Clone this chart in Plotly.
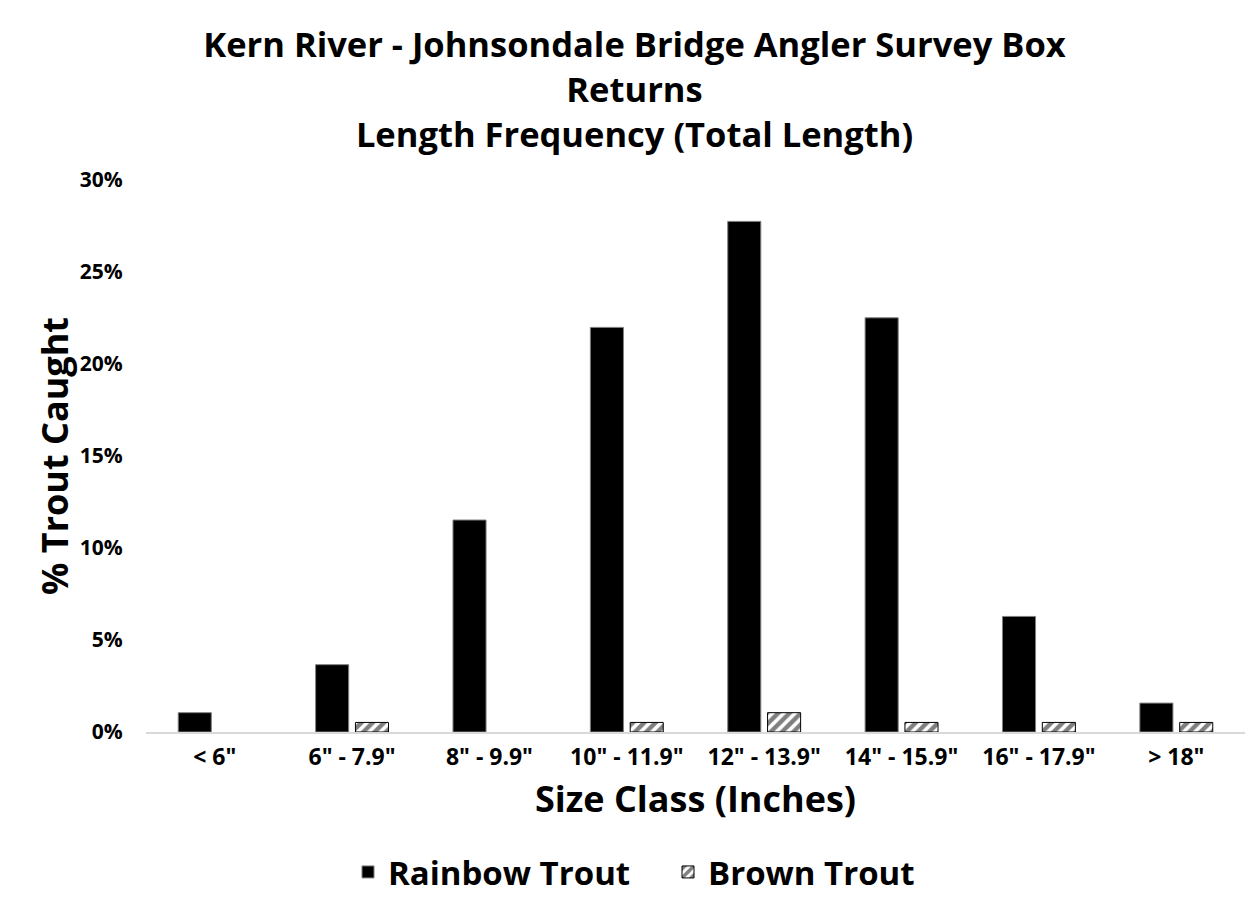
import plotly.graph_objects as go

categories = ['< 6"', '6" - 7.9"', '8" - 9.9"', '10" - 11.9"', '12" - 13.9"', '14" - 15.9"', '16" - 17.9"', '> 18"']
rainbow_pct = [1.05, 3.66, 11.52, 21.99, 27.75, 22.51, 6.28, 1.57]
brown_pct = [None, 0.52, None, 0.52, 1.05, 0.52, 0.52, 0.52]
y_ticks = [0, 5, 10, 15, 20, 25, 30]
y_tick_labels = [f"{v}%" for v in y_ticks]

FONT = "Open Sans"

fig = go.Figure()
fig.add_trace(go.Bar(
    x=categories, y=rainbow_pct, name="<b>Rainbow Trout</b>",
    marker=dict(color="black", line=dict(color="#7f7f7f", width=1)),
))
fig.add_trace(go.Bar(
    x=categories, y=brown_pct, name="<b>Brown Trout</b>",
    marker=dict(color="white", line=dict(color="black", width=1),
                pattern=dict(shape="/", fgcolor="black", bgcolor="white", size=8, solidity=0.55)),
))

fig.update_layout(
    width=1253, height=909,
    paper_bgcolor="white", plot_bgcolor="white",
    font=dict(family=FONT, color="black"),
    title=dict(
        text="<b>Kern River - Johnsondale Bridge Angler Survey Box<br>Returns<br>Length Frequency (Total Length)</b>",
        x=0.5, xref="container", xanchor="center",
        y=1 - 49 / 909, yref="container", yanchor="middle",
        font=dict(size=34.5, family=FONT, color="black"),
    ),
    barmode="group", bargap=0.42, bargroupgap=0.17,
    margin=dict(l=138, r=16, t=172, b=185),
    xaxis=dict(
        automargin=False,
        showline=True, linecolor="#d9d9d9", linewidth=2,
        ticks="outside", ticklen=3, tickcolor="rgba(0,0,0,0)",
        tickfont=dict(size=23, family=FONT, color="black"),
        tickvals=categories, ticktext=[f"<b>{c}</b>" for c in categories],
        title=dict(text="<b>Size Class (Inches)</b>", font=dict(size=36, family=FONT), standoff=16),
    ),
    yaxis=dict(
        automargin=False,
        range=[0, 30], tickvals=y_ticks, ticktext=[f"<b>{t}</b>" for t in y_tick_labels],
        showgrid=False, zeroline=False, showline=False,
        ticks="outside", ticklen=18, tickcolor="rgba(0,0,0,0)",
        tickfont=dict(size=21, family=FONT, color="black"),
        title=dict(text="<b>% Trout Caught</b>", font=dict(size=36, family=FONT), standoff=0),
    ),
    legend=dict(
        orientation="h", x=(348 - 8) / 1253, xref="container", xanchor="left",
        y=1 - 864 / 909, yref="container", yanchor="middle",
        font=dict(size=33, family=FONT), traceorder="normal",
        entrywidth=275, entrywidthmode="pixels",
    ),
    showlegend=True,
)

fig.write_html("out.html")
